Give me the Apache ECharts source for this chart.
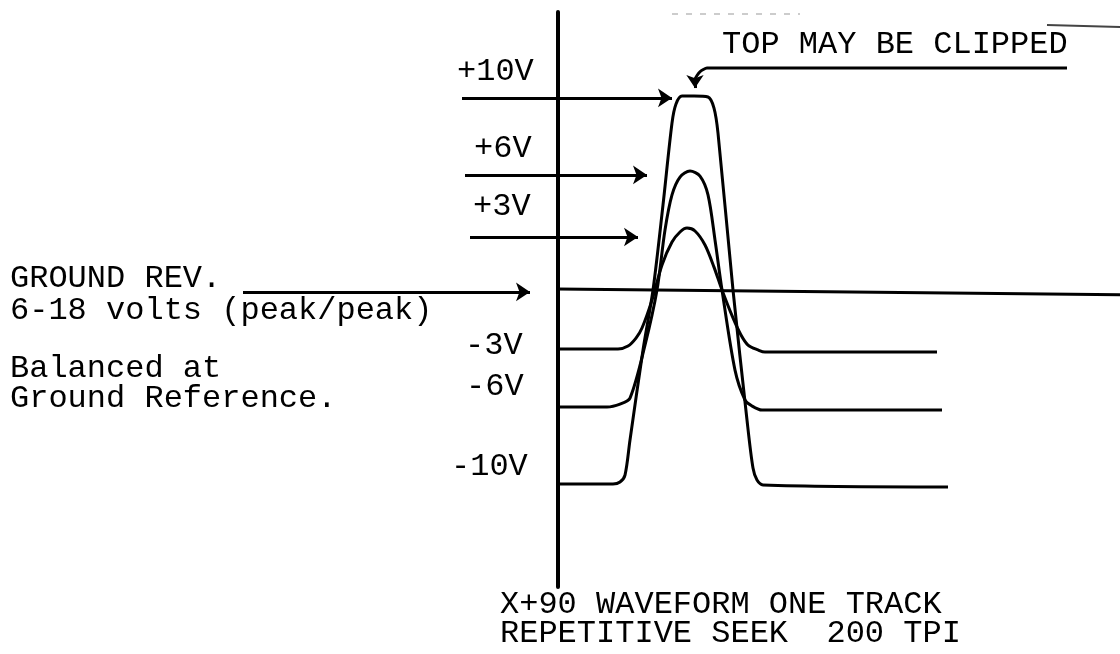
<!DOCTYPE html>
<html>
<head>
<meta charset="utf-8">
<script src="https://cdn.jsdelivr.net/npm/echarts@6/dist/echarts.min.js"></script>
<style>
  html, body { margin: 0; padding: 0; background: #fff; }
  #chart { width: 1120px; height: 654px; }
</style>
</head>
<body>
<div id="chart"></div>
<script>
// Forma de onda X+90 (tiempo en unidades arbitrarias, tension en voltios)
const xTen = [0, 5.5, 6.2, 6.7, 7.2, 8.5, 9.5, 10.5, 11.4, 11.8, 12.4, 13.6, 15.0, 15.6, 16.0, 17.5, 18.9, 19.5, 19.9, 20.5, 39.0];
const vTen = [-10.05, -10.05, -9.95, -9.59, -7.78, -3.14, -0.05, 4.33, 8.56, 9.54, 9.95, 9.95, 9.9, 9.33, 8.04, -0.05, -6.75, -9.23, -9.85, -10.1, -10.2];

const xSix = [0, 4.9, 6.2, 7.2, 8.7, 9.9, 10.7, 11.4, 12.2, 13.2, 14.2, 15.0, 15.7, 16.4, 17.7, 18.7, 19.4, 20.4, 38.4];
const vSix = [-6.08, -6.08, -5.93, -5.62, -2.89, -0.05, 3.04, 4.85, 5.77, 6.08, 5.82, 4.85, 2.53, -0.05, -4.18, -5.72, -6.03, -6.24, -6.24];

const xThree = [0, 6.0, 7.0, 7.8, 8.4, 9.4, 10.4, 11.4, 12.2, 12.9, 13.7, 14.7, 15.6, 16.4, 17.5, 18.3, 19.0, 20.0, 20.7, 37.9];
const vThree = [-3.09, -3.09, -2.94, -2.53, -2.01, -0.57, 1.24, 2.42, 2.94, 3.14, 2.99, 2.27, 1.13, -0.05, -1.49, -2.37, -2.89, -3.14, -3.25, -3.25];

// Linea de tierra
const xGround = [0, 56.2];
const vGround = [0, -0.3];

// Flechas de nivel
const arrowLevels = [9.85, 5.88, 2.68, -0.15];
const arrowStarts = [-9.6, -9.3, -8.8, -31.5];
const arrowEnds = [11.4, 8.9, 8.0, -2.8];

// Nota "TOP MAY BE CLIPPED"
const xNote = [50.9, 14.9, 14.2, 13.7, 13.7];
const vNote = [11.39, 11.39, 11.2, 10.8, 10.75];
const noteTip = [13.7, 10.36];

const zip = (xs, vs) => xs.map((x, i) => [x, vs[i]]);

const font = '32px "Liberation Mono", "DejaVu Sans Mono", monospace';
const texto = (text, x, y) => ({
  type: 'text', x, y, silent: true,
  style: { text, font, fill: '#000', verticalAlign: 'middle' }
});

const linea = (name, data) => ({
  name, type: 'line', data,
  showSymbol: false, smooth: 0.3, silent: true, clip: false,
  lineStyle: { color: '#000', width: 3 }
});

const opciones = {
  animation: false,
  backgroundColor: '#fff',
  grid: { left: 0, right: 0, top: 12, bottom: 67 },
  xAxis: {
    type: 'value', min: -55.8, max: 56.2,
    axisLine: { show: false }, axisTick: { show: false },
    axisLabel: { show: false }, splitLine: { show: false }
  },
  yAxis: {
    type: 'value', min: -15.36, max: 14.28,
    axisLine: { show: true, onZero: true, lineStyle: { color: '#000', width: 4 } },
    axisTick: { show: false }, axisLabel: { show: false }, splitLine: { show: false }
  },
  series: [
    linea('10V', zip(xTen, vTen)),
    linea('6V', zip(xSix, vSix)),
    linea('3V', zip(xThree, vThree)),
    Object.assign(linea('ground', zip(xGround, vGround)), { smooth: false }),
    Object.assign(linea('nota', zip(xNote, vNote)), {
      smooth: 0.2,
      markLine: {
        silent: true, symbol: ['none', 'arrow'], symbolSize: 13,
        label: { show: false },
        lineStyle: { color: '#000', width: 3, type: 'solid' },
        data: [[{ coord: [xNote[4], vNote[4]] }, { coord: noteTip }]]
      }
    }),
    {
      name: 'flechas', type: 'line', data: [], silent: true, clip: false,
      markLine: {
        silent: true, symbol: ['none', 'arrow'], symbolSize: 14,
        label: { show: false },
        lineStyle: { color: '#000', width: 3, type: 'solid' },
        data: arrowLevels.map((v, i) => [
          { coord: [arrowStarts[i], v] },
          { coord: [arrowEnds[i], v] }
        ])
      }
    }
  ],
  graphic: [
    texto('+10V', 457, 72),
    texto('+6V', 474, 149),
    texto('+3V', 473, 207),
    texto('-3V', 465, 346),
    texto('-6V', 466, 387),
    texto('-10V', 451, 467),
    texto('GROUND REV.', 10, 279),
    texto('6-18 volts (peak/peak)', 10, 311),
    texto('Balanced at', 10, 369),
    texto('Ground Reference.', 10, 399),
    texto('TOP MAY BE CLIPPED', 722, 45),
    texto('X+90 WAVEFORM ONE TRACK', 500, 605),
    texto('REPETITIVE SEEK  200 TPI', 500, 634),
    {
      type: 'line', silent: true,
      shape: { x1: 1047, y1: 25, x2: 1120, y2: 27 },
      style: { stroke: '#444', lineWidth: 2 }
    },
    {
      type: 'line', silent: true,
      shape: { x1: 672, y1: 14, x2: 800, y2: 14 },
      style: { stroke: '#999', lineWidth: 1, lineDash: [6, 8] }
    }
  ]
};

const miGrafico = echarts.init(document.getElementById('chart'));
miGrafico.setOption(opciones);
</script>
</body>
</html>
